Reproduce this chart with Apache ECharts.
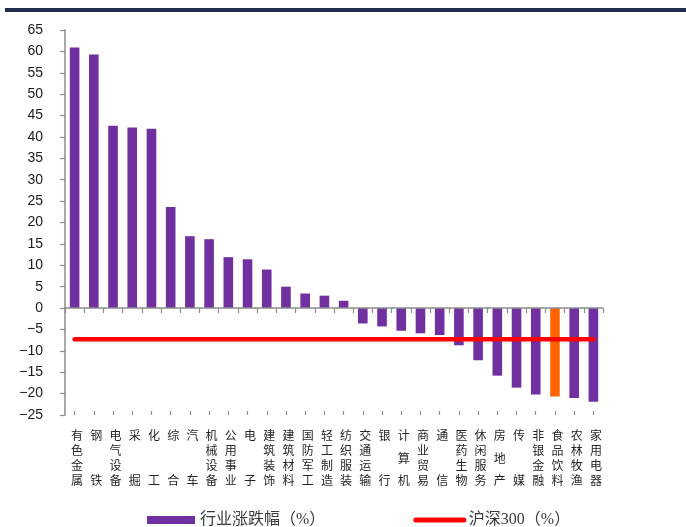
<!DOCTYPE html>
<html>
<head>
<meta charset="utf-8">
<script src="https://cdn.jsdelivr.net/npm/echarts@6/dist/echarts.min.js"></script>
<style>
  html, body { margin: 0; padding: 0; background: #ffffff; }
  #chart { width: 686px; height: 527px; }
</style>
</head>
<body>
<div id="chart"></div>
<script>
// 申万一级行业涨跌幅与沪深300
const industries = ['有色金属', '钢铁', '电气设备', '采掘', '化工', '综合', '汽车', '机械设备',
  '公用事业', '电子', '建筑装饰', '建筑材料', '国防军工', '轻工制造', '纺织服装', '交通运输',
  '银行', '计算机', '商业贸易', '通信', '医药生物', '休闲服务', '房地产', '传媒',
  '非银金融', '食品饮料', '农林牧渔', '家用电器'];
const industryChange = [60.9, 59.3, 42.6, 42.2, 41.9, 23.6, 16.8, 16.1,
  11.9, 11.4, 9.0, 5.0, 3.4, 2.9, 1.7, -3.6,
  -4.3, -5.3, -5.9, -6.3, -8.7, -12.2, -15.8, -18.6,
  -20.2, -20.7, -21.0, -21.9];
const hs300Change = -7.3;
const highlighted = '食品饮料';
const yTicks = { min: -25, max: 65, step: 5 };
const seriesNames = ['行业涨跌幅（%）', '沪深300（%）'];

const purple = '#7030A0';
const orange = '#FF6600';
const red = '#ff0000';
const axisGray = '#8c8c8c';

const barData = industries.map((name, i) => ({
  value: industryChange[i],
  itemStyle: { color: name === highlighted ? orange : purple }
}));
const lineData = industries.map(() => hs300Change);

// vertical category names, one character per row over four rows
function verticalName(name) {
  const c = name.split('');
  if (c.length === 2) return c[0] + '\n\n\n' + c[1];
  if (c.length === 3) return '{n|' + c[0] + '}\n{w|' + c[1] + '}\n{n|' + c[2] + '}';
  return c.join('\n');
}

const cjk = '"Noto Sans CJK SC", "Noto Sans", sans-serif';

const chart = echarts.init(document.getElementById('chart'));
chart.setOption({
  backgroundColor: '#ffffff',
  animation: false,
  graphic: [{
    type: 'rect',
    shape: { x: 5, y: 8, width: 681, height: 4 },
    style: { fill: '#1f2d4b' },
    silent: true
  }],
  grid: { left: 65, right: 83, top: 30, bottom: 112 },
  legend: {
    data: [
      { name: seriesNames[0], icon: 'rect' },
      {
        name: seriesNames[1],
        itemStyle: { opacity: 0, borderWidth: 0 },
        lineStyle: { color: red, width: 5, cap: 'round' }
      }
    ],
    left: 142,
    top: 507,
    itemWidth: 48,
    itemHeight: 8,
    itemGap: 88,
    textStyle: { fontFamily: '"Liberation Serif", ' + cjk, fontSize: 16, color: '#3a3a3a' }
  },
  xAxis: [
    {
      type: 'category',
      data: industries,
      position: 'bottom',
      axisLine: { show: false, onZero: false },
      axisTick: { show: false },
      axisLabel: {
        interval: 0,
        margin: 13,
        padding: [0, 0, 0, 5],
        fontFamily: cjk,
        fontSize: 12,
        lineHeight: 15,
        color: '#262626',
        formatter: verticalName,
        rich: {
          n: { fontFamily: cjk, fontSize: 12, lineHeight: 15, color: '#262626' },
          w: { fontFamily: cjk, fontSize: 12, lineHeight: 30, color: '#262626' }
        }
      }
    },
    {
      type: 'category',
      data: industries,
      position: 'bottom',
      z: 3,
      axisLine: { show: true, onZero: true, lineStyle: { color: axisGray, width: 1.5 } },
      axisTick: { show: true, interval: 0, length: 5, lineStyle: { color: axisGray, width: 1.2 } },
      axisLabel: { show: false, interval: 0 }
    },
    {
      type: 'category',
      data: industries,
      position: 'bottom',
      z: 3,
      axisLine: { show: false, onZero: true },
      axisTick: { show: true, interval: 0, inside: true, alignWithLabel: true, length: 4, lineStyle: { color: axisGray, width: 1.2 } },
      axisLabel: { show: false, interval: 0 }
    }
  ],
  yAxis: {
    type: 'value',
    min: yTicks.min,
    max: yTicks.max,
    interval: yTicks.step,
    splitLine: { show: false },
    axisLine: { show: true, lineStyle: { color: axisGray, width: 1.5 } },
    axisTick: { show: true, length: 5, lineStyle: { color: axisGray, width: 1.2 } },
    axisLabel: {
      margin: 22,
      fontFamily: '"Liberation Sans", Arial, sans-serif',
      fontSize: 14,
      color: '#1a1a1a',
      formatter: v => String(v).replace('-', '\u2212')
    }
  },
  series: [
    {
      name: seriesNames[0],
      type: 'bar',
      xAxisIndex: 0,
      barWidth: '50%',
      itemStyle: { color: purple },
      data: barData
    },
    {
      name: seriesNames[1],
      type: 'line',
      xAxisIndex: 0,
      symbol: 'none',
      color: red,
      z: 4,
      lineStyle: { color: red, width: 4.5, cap: 'round' },
      data: lineData
    }
  ]
});
</script>
</body>
</html>
